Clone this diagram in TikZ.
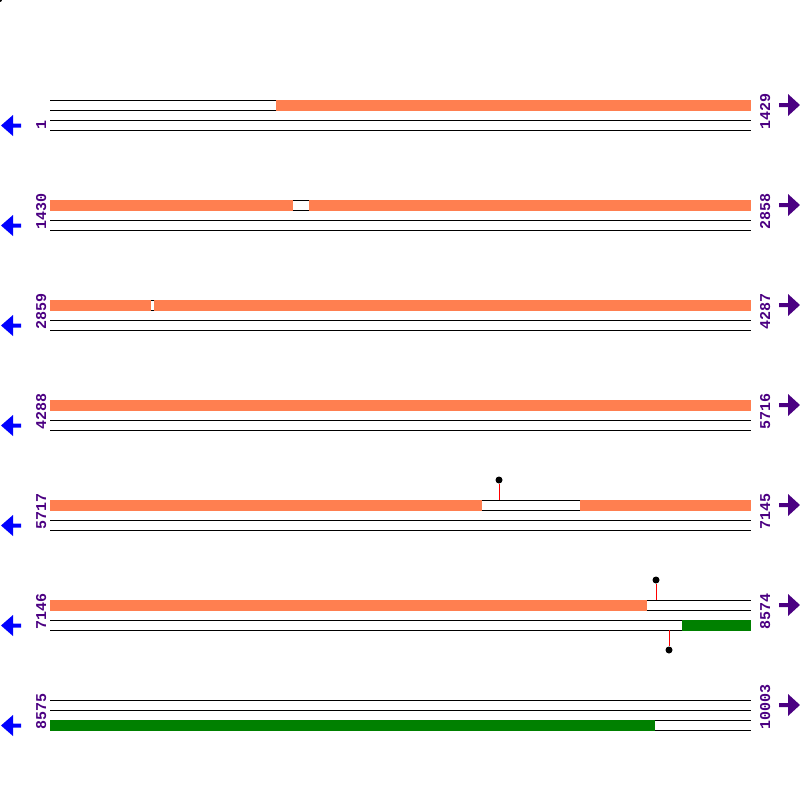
\documentclass[tikz,border=0pt]{standalone}
\usepackage{fontspec}
\newfontfamily\labelfont{Liberation Mono}
\definecolor{coral}{RGB}{255,127,80}
\definecolor{darkgreen}{RGB}{0,128,0}
\definecolor{indigo}{RGB}{75,0,130}

\begin{document}
\begin{tikzpicture}[x=1pt,y=-1pt,
  lbl/.style={rotate=90,anchor=base west,inner sep=0pt,text=indigo,
    font=\labelfont\bfseries\fontsize{15}{15}\selectfont},
  track/.style={line width=1pt},
  cds/.style={fill=coral},
  orf/.style={fill=darkgreen},
  pindot/.style={circle,fill=black,inner sep=0pt,minimum size=7pt}]
  \useasboundingbox (0,0) rectangle (800,800);
  \fill (0,0) circle (2);

  % tracks and strand arrows
  \foreach \t in {100,200,...,700} {
    \foreach \d in {0,10,20,30}
      \draw[track] (50,\t+\d) -- (751,\t+\d);
    \fill[blue] (1,\t+25.5) -- (13,\t+15) -- (13,\t+23.5) -- (21,\t+23.5)
      -- (21,\t+27.5) -- (13,\t+27.5) -- (13,\t+36) -- cycle;
    \fill[indigo] (800,\t+5) -- (788,\t-6) -- (788,\t+3) -- (779,\t+3)
      -- (779,\t+7) -- (788,\t+7) -- (788,\t+16) -- cycle;
  }

  % coding regions
  \fill[cds] (276,99.5) rectangle (751,110.5);
  \fill[cds] (50,199.5) rectangle (293,210.5);
  \fill[cds] (309,199.5) rectangle (751,210.5);
  \fill[cds] (50,299.5) rectangle (150.5,310.5);
  \fill[cds] (154,299.5) rectangle (751,310.5);
  \fill[cds] (50,399.5) rectangle (751,410.5);
  \fill[cds] (50,499.5) rectangle (482,510.5);
  \fill[cds] (580,499.5) rectangle (751,510.5);
  \fill[cds] (50,599.5) rectangle (647,610.5);
  \fill[orf] (682,619.5) rectangle (751,630.5);
  \fill[orf] (50,719.5) rectangle (655,730.5);

  % sites
  \coordinate (s1) at (499,500);
  \node[pindot] (p1) at (499,480) {};
  \draw[red] (s1) -- (p1);
  \coordinate (s2) at (656,600);
  \node[pindot] (p2) at (656,580) {};
  \draw[red] (s2) -- (p2);
  \coordinate (s3) at (669,630);
  \node[pindot] (p3) at (669,650) {};
  \draw[red] (s3) -- (p3);

  % positions
  \node[lbl] (l1) at (46,130) {1};
  \node[lbl] (l2) at (46,230) {1430};
  \node[lbl] (l3) at (46,330) {2859};
  \node[lbl] (l4) at (46,430) {4288};
  \node[lbl] (l5) at (46,530) {5717};
  \node[lbl] (l6) at (46,630) {7146};
  \node[lbl] (l7) at (46,730) {8575};
  \node[lbl] (r1) at (770,130) {1429};
  \node[lbl] (r2) at (770,230) {2858};
  \node[lbl] (r3) at (770,330) {4287};
  \node[lbl] (r4) at (770,430) {5716};
  \node[lbl] (r5) at (770,530) {7145};
  \node[lbl] (r6) at (770,630) {8574};
  \node[lbl] (r7) at (770,730) {10003};
\end{tikzpicture}
\end{document}
